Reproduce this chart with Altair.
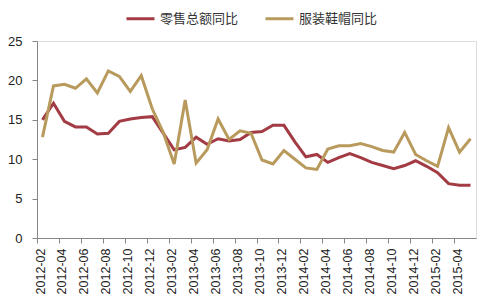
import altair as alt
import pandas as pd

months = []
for y in range(2012, 2016):
    for m in range(1, 13):
        if (y == 2012 and m < 2) or (y == 2015 and m > 5):
            continue
        months.append(f"{y}-{m:02d}")

retail = [15.0, 17.1, 14.8, 14.1, 14.1, 13.2, 13.3, 14.8, 15.1, 15.3,
          15.4, 13.3, 11.2, 11.5, 12.8, 11.9, 12.6, 12.3, 12.5, 13.4,
          13.5, 14.3, 14.3, 12.2, 10.3, 10.6, 9.6, 10.2, 10.7, 10.2,
          9.6, 9.2, 8.8, 9.2, 9.8, 9.1, 8.3, 6.9, 6.7, 6.7]
apparel = [12.8, 19.3, 19.5, 19.0, 20.2, 18.4, 21.2, 20.5, 18.6, 20.6,
           16.4, 13.4, 9.4, 17.5, 9.5, 11.2, 15.1, 12.5, 13.6, 13.3,
           9.9, 9.4, 11.1, 10.0, 8.9, 8.7, 11.3, 11.7, 11.7, 12.0,
           11.6, 11.1, 10.9, 13.4, 10.6, 9.8, 9.1, 14.0, 10.9, 12.6]
series_names = ["零售总额同比", "服装鞋帽同比"]
colors = ["#A33B44", "#B89A5C"]
y_ticks = [0, 5, 10, 15, 20, 25]
x_labels = months[::2]

rows = []
for name, vals in zip(series_names, [retail, apparel]):
    for mth, v in zip(months, vals):
        rows.append({"month": mth, "value": v, "series": name})
df = pd.DataFrame(rows)

step = 439 / 40
axis_color = "#868686"
label_font = "Liberation Sans"

chart = alt.Chart(df).mark_line(strokeWidth=3).encode(
    x=alt.X("month:O", sort=months,
            scale=alt.Scale(type="point", padding=0.5),
            axis=alt.Axis(title=None, values=x_labels, labelAngle=-90,
                          labelAlign="right", labelBaseline="middle",
                          labelFont=label_font, labelFontSize=12.5,
                          labelColor="#222222", labelPadding=5,
                          tickSize=5, tickOffset=-step / 2, labelOffset=3,
                          domainColor=axis_color, tickColor=axis_color,
                          grid=False, labelOverlap=False)),
    y=alt.Y("value:Q", scale=alt.Scale(domain=[0, 25], nice=False),
            axis=alt.Axis(title=None, values=y_ticks, tickSize=5,
                          labelPadding=10, labelFont=label_font,
                          labelFontSize=13, labelColor="#222222",
                          domainColor=axis_color, tickColor=axis_color,
                          grid=False)),
    color=alt.Color("series:N", sort=series_names,
                    scale=alt.Scale(domain=series_names, range=colors),
                    legend=alt.Legend(title=None, orient="none",
                                      direction="horizontal",
                                      legendX=88, legendY=-38,
                                      symbolType="stroke",
                                      symbolSize=784, symbolStrokeWidth=3,
                                      labelFont="Noto Sans CJK SC",
                                      labelFontSize=13, labelColor="#333333",
                                      labelOffset=4, columnPadding=20)),
    order=alt.Order("series:N"),
).properties(
    width=439, height=197,
    autosize=alt.AutoSizeParams(type="none"),
    padding={"left": 37, "top": 41, "right": 17, "bottom": 66},
).configure_view(stroke=None).configure(background="white")

chart.save("out.html", embed_options={"renderer": "svg", "actions": False})
